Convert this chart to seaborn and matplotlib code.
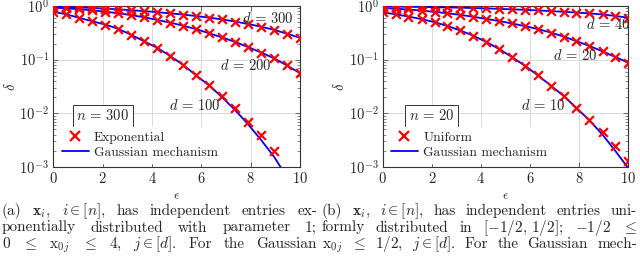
import numpy as np
import pandas as pd
import matplotlib
matplotlib.use("Agg")
import matplotlib.pyplot as plt
import seaborn as sns
from matplotlib.lines import Line2D
from matplotlib.ticker import LogLocator, NullFormatter, FixedLocator

# ---------------- data ----------------
eps = [0.00, 0.53, 1.05, 1.58, 2.11, 2.63, 3.16, 3.68, 4.21, 4.74,
       5.26, 5.79, 6.32, 6.84, 7.37, 7.89, 8.42, 8.95, 9.47, 10.00]

# panel (a): n = 300, Exponential entries
exp_d100 = [0.78, 0.70, 0.60, 0.52, 0.45, 0.376, 0.29, 0.22, 0.166, 0.117,
            0.081, 0.052, 0.034, 0.021, 0.0124, 0.0070, 0.0039, 0.0020, 0.0003, 0.0001]
exp_d200 = [0.923, 0.902, 0.871, 0.832, 0.785, 0.733, 0.676, 0.617, 0.55, 0.49,
            0.43, 0.37, 0.31, 0.26, 0.214, 0.172, 0.136, 0.106, 0.078, 0.056]
exp_d300 = [0.973, 0.959, 0.942, 0.920, 0.895, 0.867, 0.836, 0.804, 0.767, 0.729,
            0.692, 0.650, 0.607, 0.562, 0.513, 0.462, 0.412, 0.359, 0.305, 0.255]
gauss_a_d100 = [0.78, 0.70, 0.60, 0.52, 0.45, 0.376, 0.29, 0.22, 0.166, 0.117,
                0.080, 0.051, 0.033, 0.020, 0.0115, 0.0063, 0.0032, 0.00155, 0.00065, 0.00026]
gauss_a_d200 = exp_d200
gauss_a_d300 = exp_d300

# panel (b): n = 20, Uniform entries
uni_d10 = [0.76, 0.70, 0.635, 0.57, 0.50, 0.425, 0.35, 0.28, 0.215, 0.158,
           0.112, 0.077, 0.051, 0.033, 0.021, 0.0128, 0.0076, 0.0044, 0.0025, 0.00128]
uni_d20 = [0.912, 0.891, 0.861, 0.822, 0.776, 0.733, 0.684, 0.631, 0.575, 0.525,
           0.473, 0.422, 0.372, 0.32, 0.269, 0.221, 0.18, 0.143, 0.112, 0.088]
uni_d40 = [0.977, 0.973, 0.966, 0.959, 0.951, 0.940, 0.929, 0.916, 0.902, 0.885,
           0.867, 0.848, 0.826, 0.804, 0.780, 0.755, 0.728, 0.695, 0.653, 0.604]
gauss_b_d10 = [0.76, 0.70, 0.635, 0.57, 0.50, 0.425, 0.35, 0.28, 0.215, 0.158,
               0.112, 0.077, 0.051, 0.033, 0.021, 0.0126, 0.0074, 0.0040, 0.0020, 0.00095]
gauss_b_d20 = uni_d20
gauss_b_d40 = uni_d40

x_ticks = [0, 2, 4, 6, 8, 10]

# ---------------- style ----------------
sns.set_style("ticks")
plt.rcParams.update({
    "font.family": ["cmr10", "DejaVu Serif"],
    "mathtext.fontset": "cm",
    "axes.formatter.use_mathtext": True,
    "axes.unicode_minus": False,
    "xtick.direction": "in",
    "ytick.direction": "in",
    "axes.linewidth": 0.8,
    "axes.edgecolor": "#333333",
})

W, H = 640, 271
fig = plt.figure(figsize=(W / 100, H / 100), dpi=100)


def long_df(values_by_d):
    rows = []
    for d, vals in values_by_d.items():
        for e, v in zip(eps, vals):
            rows.append({"eps": e, "delta": v, "d": d})
    return pd.DataFrame(rows)


def panel(rect, mk_vals, gs_vals, mk_name, n_text, labels):
    ax = fig.add_axes(rect)
    gdf = long_df(gs_vals)
    mdf = long_df(mk_vals)
    sns.lineplot(data=gdf, x="eps", y="delta", units="d", estimator=None,
                 color="#0000ff", lw=1.3, ax=ax, legend=False, zorder=3)
    sns.scatterplot(data=mdf, x="eps", y="delta", marker="x", color="#ff0000",
                    s=40, linewidth=1.6, ax=ax, legend=False, zorder=4)
    ax.set_yscale("log")
    ax.set_xlim(0, 10)
    ax.set_ylim(1e-3, 1)
    ax.xaxis.set_major_locator(FixedLocator(x_ticks))
    ax.yaxis.set_major_locator(LogLocator(base=10, numticks=10))
    ax.yaxis.set_minor_locator(LogLocator(base=10, subs=np.arange(2, 10) * 0.1, numticks=10))
    ax.yaxis.set_minor_formatter(NullFormatter())
    ax.tick_params(which="both", top=True, right=True, labelsize=10.5, color="#555555")
    ax.tick_params(which="major", length=3.5, width=0.6, pad=3)
    ax.tick_params(which="minor", length=2, width=0.5)
    ax.grid(True, which="major", color="#dadada", lw=0.7)
    ax.set_axisbelow(True)
    ax.set_xlabel(r"$\epsilon$", fontsize=9.5)
    ax.xaxis.set_label_coords(0.5, -0.145)
    ax.set_ylabel(r"$\delta$", fontsize=10.5)
    ax.yaxis.set_label_coords(-0.145, 0.5)
    for (tx, ty, s) in labels:
        ax.text(tx, ty, s, fontsize=10.5, ha="center", va="center", zorder=5)
    ax.text(0.2, 0.318, n_text, transform=ax.transAxes, fontsize=10.5,
            ha="center", va="center", zorder=6,
            bbox=dict(boxstyle="square,pad=0.25", fc="white", ec="#333333", lw=0.7))
    handles = [Line2D([], [], marker="x", color="#ff0000", ls="none", ms=6.5, mew=1.6),
               Line2D([], [], color="#0000ff", lw=1.3)]
    leg = ax.legend(handles, [mk_name, "Gaussian mechanism"], loc="lower left",
                    bbox_to_anchor=(-0.01, -0.015), fontsize=9.7, frameon=True,
                    fancybox=False, edgecolor="white", facecolor="white",
                    framealpha=1, handlelength=2.0, handletextpad=0.4,
                    labelspacing=0.2, borderpad=0.3)
    leg.set_zorder(6)
    return ax


top = 1 - 6 / H
bot = 1 - 167 / H
axa = panel([53.3 / W, bot, (300 - 53.3) / W, top - bot],
            {100: exp_d100, 200: exp_d200, 300: exp_d300},
            {100: gauss_a_d100, 200: gauss_a_d200, 300: gauss_a_d300},
            "Exponential", r"$n\,=\,300$",
            [(8.7, 0.59, r"$d\,=\,300$"), (7.8, 0.077, r"$d\,=\,200$"),
             (5.74, 0.014, r"$d\,=\,100$")])
axb = panel([382.7 / W, bot, (628.3 - 382.7) / W, top - bot],
            {10: uni_d10, 20: uni_d20, 40: uni_d40},
            {10: gauss_b_d10, 20: gauss_b_d20, 40: gauss_b_d40},
            "Uniform", r"$n\,=\,20$",
            [(9.2, 0.45, r"$d\,=\,40$"), (7.83, 0.119, r"$d\,=\,20$"),
             (6.52, 0.014, r"$d\,=\,10$")])

# ---------------- captions (justified lines) ----------------
cap_a = [
    ["(a)", r"$\mathbf{x}_i$,", r"$i \in [n]$,", "has", "independent", "entries", "ex-"],
    ["ponentially", "distributed", "with", "parameter", "1;"],
    [r"$0$", r"$\leq$", r"$\mathrm{x}_{0j}$", r"$\leq$", r"$4$,", r"$j \in [d]$.", "For", "the", "Gaussian"],
]
cap_b = [
    ["(b)", r"$\mathbf{x}_i$,", r"$i \in [n]$,", "has", "independent", "entries", "uni-"],
    ["formly", "distributed", "in", r"$[-1/2,\,1/2]$;", r"$-1/2$", r"$\leq$"],
    [r"$\mathrm{x}_{0j}$", r"$\leq$", r"$1/2$,", r"$j \in [d]$.", "For", "the", "Gaussian", "mech-"],
]
renderer = fig.canvas.get_renderer()
baselines = [215.0, 231.5, 248.0]


def justify(tokens, x0, x1, ybase, size=11.0):
    texts = [fig.text(0, 1 - ybase / H, t, fontsize=size, ha="left", va="baseline")
             for t in tokens]
    widths = [t.get_window_extent(renderer).width for t in texts]
    gap = (x1 - x0 - sum(widths)) / max(len(tokens) - 1, 1)
    pos = x0
    for t, w in zip(texts, widths):
        t.set_x(pos / W)
        pos += w + gap


for line, yb in zip(cap_a, baselines):
    justify(line, 1.5, 317.0, yb)
for line, yb in zip(cap_b, baselines):
    justify(line, 321.5, 637.0, yb)

fig.savefig("out.png", dpi=100)
